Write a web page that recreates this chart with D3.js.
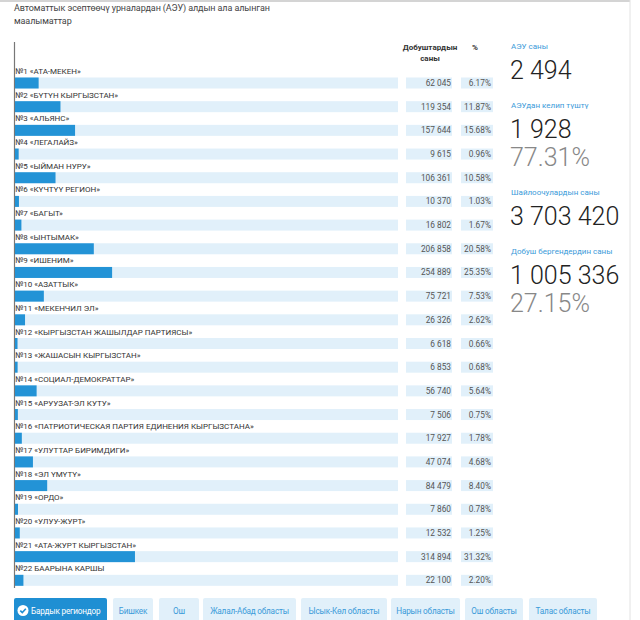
<!DOCTYPE html>
<html><head><meta charset="utf-8">
<script src="https://cdn.jsdelivr.net/npm/d3@7"></script>
<style>
body{margin:0;background:#fff;font-family:Roboto,"Noto Sans",sans-serif;}
svg{display:block}
</style></head>
<body><svg id="c" width="640" height="620"></svg>
<script>
const parties = ["№1 «АТА-МЕКЕН»","№2 «БҮТҮН КЫРГЫЗСТАН»","№3 «АЛЬЯНС»","№4 «ЛЕГАЛАЙЗ»","№5 «ЫЙМАН НУРУ»","№6 «КҮЧТҮҮ РЕГИОН»","№7 «БАГЫТ»","№8 «ЫНТЫМАК»","№9 «ИШЕНИМ»","№10 «АЗАТТЫК»","№11 «МЕКЕНЧИЛ ЭЛ»","№12 «КЫРГЫЗСТАН ЖАШЫЛДАР ПАРТИЯСЫ»","№13 «ЖАШАСЫН КЫРГЫЗСТАН»","№14 «СОЦИАЛ-ДЕМОКРАТТАР»","№15 «АРУУЗАТ-ЭЛ КУТУ»","№16 «ПАТРИОТИЧЕСКАЯ ПАРТИЯ ЕДИНЕНИЯ КЫРГЫЗСТАНА»","№17 «УЛУТТАР БИРИМДИГИ»","№18 «ЭЛ ҮМҮТҮ»","№19 «ОРДО»","№20 «УЛУУ-ЖУРТ»","№21 «АТА-ЖУРТ КЫРГЫЗСТАН»","№22 БААРЫНА КАРШЫ"];
const votes = [62045,119354,157644,9615,106361,10370,16802,206858,254889,75721,26326,6618,6853,56740,7506,17927,47074,84479,7860,12532,314894,22100];
const percents = ["6.17%","11.87%","15.68%","0.96%","10.58%","1.03%","1.67%","20.58%","25.35%","7.53%","2.62%","0.66%","0.68%","5.64%","0.75%","1.78%","4.68%","8.40%","0.78%","1.25%","31.32%","2.20%"];
const totalVoted = 1005336;
const statLabels = ["АЭУ саны","АЭУдан келип түштү","Шайлоочулардын саны","Добуш бергендердин саны"];
const statValues = ["2 494","1 928","3 703 420","1 005 336"];
const statPercents = [null,"77.31%",null,"27.15%"];
const regions = ["Бардык региондор","Бишкек","Ош","Жалал-Абад областы","Ысык-Көл областы","Нарын областы","Ош областы","Талас областы"];
const titleLines = ["Автоматтык эсептөөчү урналардан (АЭУ) алдын ала алынган","маалыматтар"];

const svg = d3.select("#c");
// frame
svg.append("line").attr("x1",0).attr("x2",630).attr("y1",1).attr("y2",1).attr("stroke","#d4d4d4").attr("stroke-width",2);
svg.append("line").attr("x1",630).attr("x2",630).attr("y1",0).attr("y2",620).attr("stroke","#e2e2e2").attr("stroke-width",1);

const tg = svg.append("g").attr("fill","#444").attr("font-size",9).attr("letter-spacing",-0.1);
titleLines.forEach((t,i)=>tg.append("text").attr("x",14).attr("y",11+i*12.5).text(t));

const x0 = 15;
const x = d3.scaleLinear().domain([0,totalVoted]).range([0,383]);
const y = d3.scaleBand().domain(d3.range(parties.length)).range([66,587]).paddingInner(0);

// axis line
svg.append("line").attr("x1",14.5).attr("x2",14.5).attr("y1",42).attr("y2",588).attr("stroke","#777").attr("stroke-width",1.2);

// header
const hg = svg.append("g").attr("font-size",8).attr("font-weight","bold").attr("fill","#333").attr("text-anchor","middle");
hg.append("text").attr("x",430).attr("y",50).text("Добуштардын");
hg.append("text").attr("x",430).attr("y",61).text("саны");
hg.append("text").attr("x",475).attr("y",50).text("%");

const rows = svg.append("g").selectAll("g").data(parties).join("g")
  .attr("transform",(d,i)=>`translate(0,${y(i)})`);
rows.append("text").attr("x",x0).attr("y",8).attr("font-size",8).attr("fill","#333").text(d=>d);
rows.append("rect").attr("x",x0).attr("y",11.5).attr("width",x(totalVoted)).attr("height",11).attr("fill","#e1f0fa");
rows.append("rect").attr("x",x0).attr("y",11.5).attr("width",(d,i)=>x(votes[i])).attr("height",11).attr("fill","#2393d6");
rows.append("rect").attr("x",406).attr("y",11.5).attr("width",46).attr("height",11).attr("fill","#e1f0fa");
rows.append("rect").attr("x",461).attr("y",11.5).attr("width",32).attr("height",11).attr("fill","#e1f0fa");
rows.append("text").attr("x",451).attr("y",20).attr("text-anchor","end").attr("font-size",8.3).attr("fill","#555")
  .text((d,i)=>d3.format(",")(votes[i]).replace(/,/g," "));
rows.append("text").attr("x",491).attr("y",20).attr("text-anchor","end").attr("font-size",8.3).attr("fill","#555")
  .text((d,i)=>percents[i]);

// stats panel
const sp = svg.append("g");
const labelY = [49,108,195,254];
statLabels.forEach((l,i)=>{
  sp.append("text").attr("x",511).attr("y",labelY[i]).attr("font-size",8).attr("fill","#3a9ad9").text(l);
  sp.append("text").attr("x",510).attr("y",labelY[i]+30).attr("font-size",25).attr("font-weight",300).attr("fill","#222").text(statValues[i]);
  if(statPercents[i]) sp.append("text").attr("x",510).attr("y",labelY[i]+58).attr("font-size",25).attr("font-weight",300).attr("fill","#888").text(statPercents[i]);
});

// region buttons
const bx = [14,113,159,203,301,391,465,529];
const bw = [93,40,40,93,86,69,58,68];
const bg = svg.append("g");
regions.forEach((r,i)=>{
  const g = bg.append("g").attr("transform",`translate(${bx[i]},598)`);
  g.append("rect").attr("width",bw[i]).attr("height",26).attr("rx",2).attr("fill",i===0?"#1f8fd3":"#e1f0fa");
  if(i===0){
    g.append("circle").attr("cx",9).attr("cy",12.5).attr("r",5.5).attr("fill","#fff");
    g.append("path").attr("d","M6.3,12.6 L8.3,14.6 L11.8,10.8").attr("fill","none").attr("stroke","#1f8fd3").attr("stroke-width",1.6);
    g.append("text").attr("x",17).attr("y",15.5).attr("font-size",8.2).attr("letter-spacing",-0.2).attr("fill","#fff").text(r);
  } else {
    g.append("text").attr("x",bw[i]/2).attr("y",15.5).attr("text-anchor","middle").attr("font-size",8.2).attr("letter-spacing",-0.2).attr("fill","#3a9ad9").text(r);
  }
});
</script></body></html>
